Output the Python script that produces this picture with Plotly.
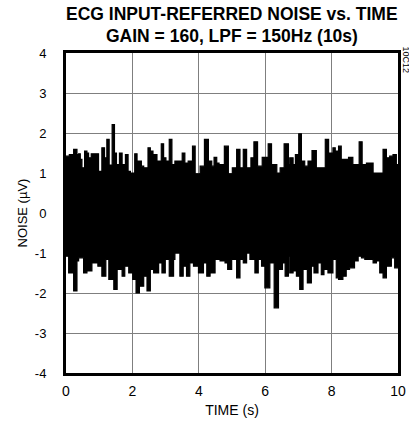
import plotly.graph_objects as go

# Upper envelope of the noise trace (time s, noise µV)
t_top = [0.00, 0.10, 0.23, 0.33, 0.38, 0.43, 0.48, 0.56, 0.63, 0.68, 0.76, 0.83, 0.91, 0.98,
         1.08, 1.16, 1.23, 1.30, 1.39, 1.46, 1.52, 1.61, 1.69, 1.79, 1.87, 1.94, 2.07, 2.14,
         2.27, 2.34, 2.47, 2.54, 2.62, 2.74, 2.87, 2.94, 3.01, 3.11, 3.19, 3.28, 3.50, 3.58,
         3.68, 3.81, 3.89, 4.04, 4.17, 4.29, 4.39, 4.46, 4.54, 4.61, 4.77, 4.89, 5.01, 5.14,
         5.24, 5.34, 5.44, 5.57, 5.66, 5.77, 5.91, 6.09, 6.19, 6.35, 6.45, 6.57, 6.70, 6.74,
         6.84, 6.91, 7.01, 7.09, 7.19, 7.29, 7.41, 7.54, 7.69, 7.81, 7.91, 8.04, 8.11, 8.21,
         8.29, 8.39, 8.51, 8.64, 8.83, 8.92, 9.05, 9.15, 9.25, 9.40, 9.55, 9.65, 9.75, 9.85,
         9.95, 10.00]
v_top = [1.42, 1.46, 1.59, 1.46, 1.48, 1.34, 1.13, 1.55, 1.50, 1.38, 1.48, 1.48, 1.48, 1.04,
         1.63, 1.38, 1.84, 1.20, 2.21, 1.50, 1.21, 1.50, 1.21, 1.46, 1.04, 1.00, 1.48, 1.30,
         1.17, 1.13, 1.63, 1.55, 1.46, 1.30, 1.73, 1.38, 1.30, 1.84, 1.21, 1.30, 1.50, 1.25,
         1.30, 1.67, 0.98, 1.17, 1.84, 1.30, 1.17, 1.39, 1.25, 1.21, 1.67, 0.98, 1.13, 1.59,
         1.13, 1.59, 1.13, 1.38, 1.78, 1.17, 1.39, 1.73, 1.21, 1.00, 1.13, 1.73, 1.21, 1.38,
         1.21, 1.46, 1.98, 1.30, 1.17, 1.30, 1.56, 1.13, 1.13, 1.84, 1.50, 1.63, 1.55, 1.67,
         1.34, 1.34, 1.39, 1.21, 1.78, 1.21, 1.25, 1.25, 1.00, 1.00, 1.59, 1.38, 1.42, 1.46,
         1.21, 1.21]

# Lower envelope of the noise trace
t_bot = [0.00, 0.08, 0.23, 0.33, 0.38, 0.53, 0.63, 0.78, 0.88, 0.96, 1.08, 1.20, 1.29, 1.44,
         1.54, 1.69, 1.77, 1.89, 2.01, 2.11, 2.21, 2.34, 2.44, 2.54, 2.64, 2.79, 2.89, 2.99,
         3.11, 3.24, 3.28, 3.43, 3.53, 3.63, 3.73, 3.84, 3.99, 4.14, 4.24, 4.34, 4.49, 4.64,
         4.79, 4.87, 4.99, 5.14, 5.24, 5.34, 5.44, 5.54, 5.69, 5.79, 5.89, 5.99, 6.14, 6.27,
         6.40, 6.52, 6.60, 6.70, 6.74, 6.84, 6.94, 7.04, 7.14, 7.27, 7.39, 7.47, 7.59, 7.69,
         7.77, 7.89, 8.04, 8.14, 8.21, 8.34, 8.44, 8.54, 8.69, 8.80, 8.90, 9.00, 9.15, 9.25,
         9.35, 9.45, 9.55, 9.65, 9.80, 9.90, 10.00]
v_bot = [-1.08, -1.50, -1.95, -1.20, -1.12, -1.50, -1.45, -1.25, -1.25, -1.33, -1.58, -1.16,
         -1.66, -1.91, -1.41, -1.58, -1.33, -1.50, -1.66, -2.00, -1.83, -1.58, -1.95, -1.41,
         -1.50, -1.25, -1.50, -1.16, -1.58, -1.16, -1.00, -1.58, -1.33, -1.58, -1.25, -1.33,
         -1.50, -1.25, -1.58, -1.50, -1.16, -1.20, -1.25, -1.41, -1.16, -1.62, -1.16, -1.25,
         -1.00, -1.16, -1.50, -1.16, -1.33, -1.87, -1.25, -2.37, -1.41, -1.25, -1.58, -1.08,
         -1.50, -1.45, -1.58, -1.91, -1.41, -1.75, -1.33, -1.50, -1.25, -1.54, -1.41, -1.50,
         -1.16, -1.62, -1.66, -1.58, -1.41, -1.37, -1.20, -1.08, -1.12, -1.16, -1.16, -1.25,
         -1.20, -1.50, -1.62, -1.33, -1.12, -1.37, -1.37]

x_ticks = [0, 2, 4, 6, 8, 10]
y_ticks = [-4, -3, -2, -1, 0, 1, 2, 3, 4]
y_tick_text = ["-4", "-3", "-2", "-1", "0", "1", "2", "3", "4"]
title_lines = ["ECG INPUT-REFERRED NOISE vs. TIME", "GAIN = 160, LPF = 150Hz (10s)"]

FONT = "Liberation Sans, Arial, sans-serif"

fig = go.Figure()
fig.add_trace(go.Scatter(x=t_top, y=v_top, mode="lines", line=dict(color="black", width=1.2, shape="hv"),
                         hoverinfo="skip", showlegend=False))
fig.add_trace(go.Scatter(x=t_bot, y=v_bot, mode="lines", line=dict(color="black", width=1.2, shape="hv"),
                         fill="tonexty", fillcolor="black", hoverinfo="skip", showlegend=False))

fig.update_layout(
    width=409, height=425,
    margin=dict(l=66, r=11, t=53, b=52),
    paper_bgcolor="white", plot_bgcolor="white",
    font=dict(family=FONT, color="black", size=13),
    xaxis=dict(range=[0, 10], tickvals=x_ticks, ticks="outside", ticklen=3, tickcolor="rgba(0,0,0,0)",
               showgrid=True, gridcolor="#7f7f7f", gridwidth=1, zeroline=False, automargin=False,
               showline=True, linecolor="black", linewidth=3, mirror=True,
               tickfont=dict(size=14), title=dict(text="TIME (s)", font=dict(size=14), standoff=8)),
    yaxis=dict(range=[-4, 4], tickvals=y_ticks, ticktext=y_tick_text, ticks="outside", ticklen=14,
               tickcolor="rgba(0,0,0,0)", showgrid=True, gridcolor="#7f7f7f", gridwidth=1, zeroline=False,
               automargin=False, showline=True, linecolor="black", linewidth=3, mirror=True,
               tickfont=dict(size=13), title=dict(text="NOISE (µV)", font=dict(size=13), standoff=5)),
)
for line_text, ypos in zip(title_lines, [1.122, 1.053]):
    fig.add_annotation(text="<b>" + line_text + "</b>", xref="paper", yref="paper", x=0.5, y=ypos,
                       xanchor="center", yanchor="middle", showarrow=False,
                       font=dict(family=FONT, size=17.5, color="black"))
fig.add_annotation(text="10C12", xref="paper", yref="paper", x=1.0, y=1.0, xanchor="left", yanchor="top",
                   xshift=1, yshift=9, textangle=90, showarrow=False, font=dict(family=FONT, size=9, color="black"))

fig.write_html("out.html", config={"displayModeBar": False},
               post_script="document.body.style.margin='0';document.body.style.overflow='hidden';")
